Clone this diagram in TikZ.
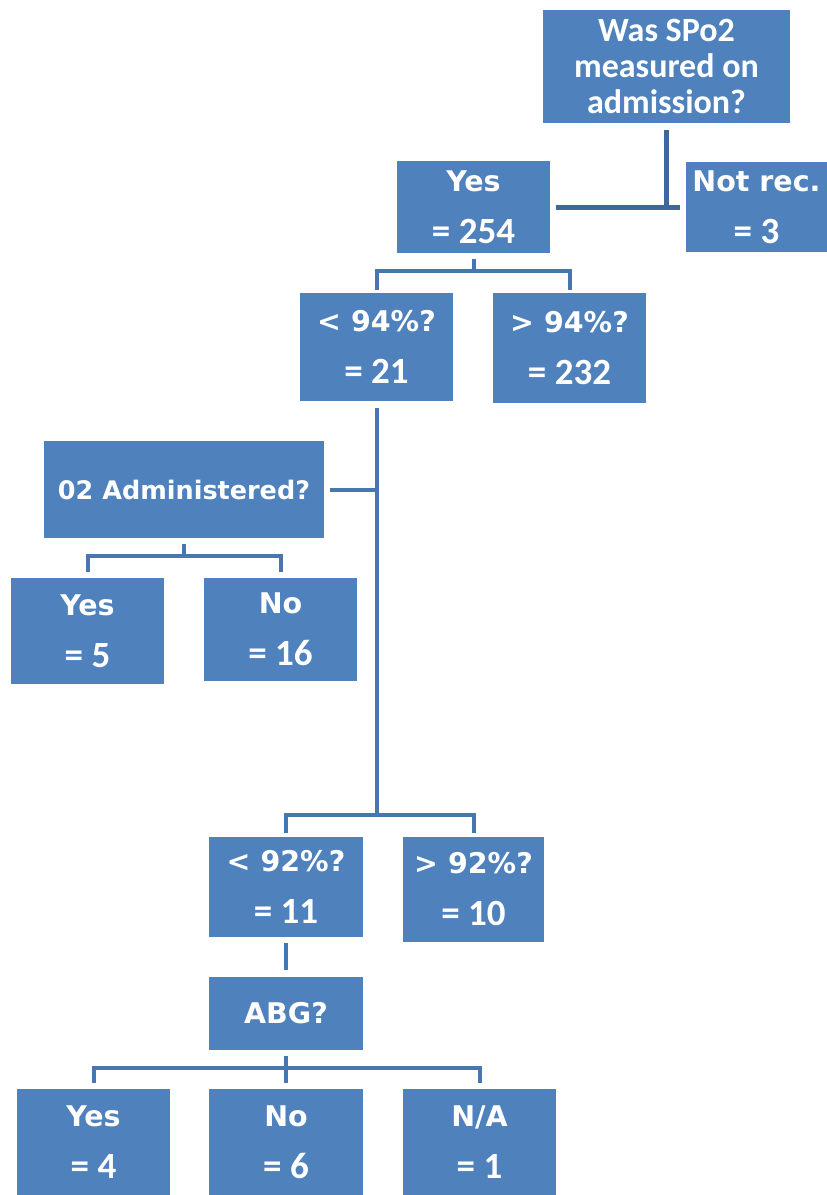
\documentclass[tikz,border=0pt]{standalone}
\usepackage{fontspec}
\setmainfont{Carlito}
\newfontfamily\hdfont{DejaVu Sans}
\usetikzlibrary{calc}
\definecolor{boxblue}{RGB}{79,129,189}
\definecolor{linecol}{RGB}{72,118,176}
\definecolor{topcol}{RGB}{62,104,152}
\newcommand{\cnt}[1]{{\rmfamily\fontsize{37}{52}\selectfont = #1}}
\begin{document}
\begin{tikzpicture}[x=1pt,y=-1pt,
    box/.style={fill=boxblue,text=white,inner sep=0pt,align=center,
      font=\hdfont\bfseries\fontsize{28.5}{52}\selectfont},
    sz/.style 2 args={minimum width=#1pt,minimum height=#2pt}]
      \useasboundingbox (0,0) rectangle (827,1195);
      \draw
        (666.5,66.5) node[box,sz={247}{113},font=\rmfamily\bfseries\fontsize{34}{36}\selectfont] (0){Was SPo2\\measured on\\admission?}
        (473.5,207) node[box,sz={153}{92}] (1){Yes\\\cnt{254}}
        (756.5,207) node[box,sz={141}{90}] (2){Not rec.\\\cnt{3}}
        (376.5,347) node[box,sz={153}{108}] (3){< 94\%?\\\cnt{21}}
        (569.5,348) node[box,sz={153}{110}] (4){> 94\%?\\\cnt{232}}
        (184,489.5) node[box,sz={280}{97},font=\hdfont\bfseries\fontsize{25.5}{30}\selectfont] (5){02 Administered?}
        (87.5,631) node[box,sz={153}{106}] (6){Yes\\\cnt{5}}
        (280.5,629.5) node[box,sz={153}{103}] (7){No\\\cnt{16}}
        (286,887) node[box,sz={154}{100}] (8){< 92\%?\\\cnt{11}}
        (473.5,889.5) node[box,sz={141}{105}] (9){> 92\%?\\\cnt{10}}
        (286,1013.5) node[box,sz={154}{73}] (10){ABG?}
        (93.5,1142) node[box,sz={153}{106}] (11){Yes\\\cnt{4}}
        (286,1142) node[box,sz={154}{106}] (12){No\\\cnt{6}}
        (479.5,1142) node[box,sz={153}{106}] (13){N/A\\\cnt{1}};
      \coordinate (b1) at ($(1.south)+(0,18)$);
      \coordinate (b3) at ($(3.south |- 8.north)+(0,-22)$);
      \coordinate (b5) at ($(5.south)+(0,18)$);
      \coordinate (b10) at ($(10.south)+(0,18)$);
      \begin{scope}[line width=5pt,draw=topcol]
        \draw[shorten <=7pt] (0.south) -- (0.south |- 1.east);
        \draw[shorten <=6pt,shorten >=6pt] (1.east) -- (2.west);
      \end{scope}
      \begin{scope}[line width=4pt,draw=linecol]
        \draw[shorten <=6pt] (1.south) -- (b1);
        \draw[shorten <=3pt,shorten >=3pt] (3.north) |- (b1) -| (4.north);
        \draw[shorten <=7pt] (3.south) -- (b3);
        \draw[shorten <=6pt] (5.east) -- (5.east -| 3.south);
        \draw[shorten <=6pt] (5.south) -- (b5);
        \draw[shorten <=6pt,shorten >=6pt] (6.north) |- (b5) -| (7.north);
        \draw[shorten <=4pt,shorten >=4pt] (8.north) |- (b3) -| (9.north);
        \draw[shorten <=6pt,shorten >=7pt] (8.south) -- (10.north);
        \draw[shorten <=6pt,shorten >=6pt] (10.south) -- (12.north);
        \draw[shorten <=6pt,shorten >=6pt] (11.north) |- (b10) -| (13.north);
      \end{scope}
    \end{tikzpicture}
\end{document}
